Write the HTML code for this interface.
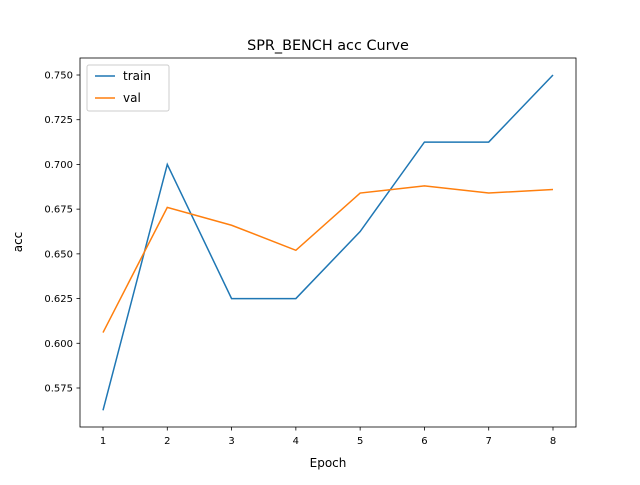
<!DOCTYPE html>
<html><head><meta charset="utf-8"><style>
body{margin:0;background:#fff;}
svg text{font-family:"DejaVu Sans","Liberation Sans",sans-serif;fill:#000;}
</style></head><body>
<svg id="chart" width="640" height="480" xmlns="http://www.w3.org/2000/svg">
<rect width="640" height="480" fill="#fff"/>
<text x="328" y="50" font-size="14.4" text-anchor="middle">SPR_BENCH acc Curve</text>
<g id="grid"></g>
<g id="marks"></g>
<rect x="80" y="58" width="496" height="369" fill="none" stroke="#000" stroke-width="0.8"/>
<text x="328" y="467" font-size="12" text-anchor="middle">Epoch</text>
<text x="22" y="242" font-size="12" text-anchor="middle" transform="rotate(-90 22 242)">acc</text>
<g>
<rect x="87" y="65" width="82" height="46" rx="2" fill="#fff" fill-opacity="0.8" stroke="#ccc"/>
<line x1="95" y1="76" x2="115" y2="76" stroke="#1f77b4" stroke-width="1.5"/>
<text x="123" y="80" font-size="12">train</text>
<line x1="95" y1="98" x2="115" y2="98" stroke="#ff7f0e" stroke-width="1.5"/>
<text x="123" y="102" font-size="12">val</text>
</g>
</svg>
<script>
const epochs=[1,2,3,4,5,6,7,8];
const trainAcc=[0.5625,0.700,0.625,0.625,0.6625,0.7125,0.7125,0.750];
const valAcc=[0.606,0.676,0.666,0.652,0.684,0.688,0.684,0.686];
const yTicks=[0.575,0.600,0.625,0.650,0.675,0.700,0.725,0.750];
const xTicks=[1,2,3,4,5,6,7,8];
const NS="http://www.w3.org/2000/svg";
const sx=v=>103+(v-1)*(450/7);
const sy=v=>388-(v-0.575)/0.025*44.714;
const g=document.getElementById('grid'),m=document.getElementById('marks');
function mk(t,a,p){const e=document.createElementNS(NS,t);for(const k in a)e.setAttribute(k,a[k]);p.appendChild(e);return e;}
xTicks.forEach(t=>{
 const l=mk('line',{x1:sx(t),x2:sx(t),y1:427,y2:430.5,stroke:'#000','stroke-width':0.8},g);
 
 
 const tx=mk('text',{x:sx(t),y:444,'font-size':10,'text-anchor':'middle'},g);tx.textContent=t;
 
 
});
yTicks.forEach(t=>{
 const l=mk('line',{x1:76.5,x2:80,y1:sy(t),y2:sy(t),stroke:'#000','stroke-width':0.8},g);
 
 
 const tx=mk('text',{x:73,y:sy(t)+3.5,'font-size':10,'text-anchor':'end'},g);tx.textContent=t.toFixed(3);
 
 
});
function line(d,c,n){
 const p=mk('polyline',{points:d.map((v,i)=>sx(epochs[i])+','+sy(v)).join(' '),fill:'none',stroke:c,'stroke-width':1.5},m);
 
 
}
line(trainAcc,'#1f77b4','train-line');
line(valAcc,'#ff7f0e','val-line');
</script>
</body></html>
